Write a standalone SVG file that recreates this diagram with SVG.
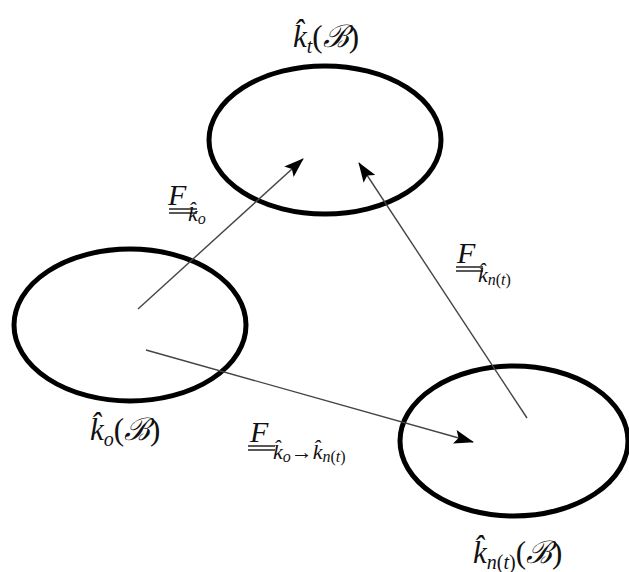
<svg xmlns="http://www.w3.org/2000/svg" width="629" height="572" viewBox="0 0 629 572">
<style>
.node{fill:none;stroke:#000;stroke-width:5}
.conn{stroke:#444;stroke-width:1.4;fill:none}
.lbl{font-family:"Liberation Serif","DejaVu Serif",serif;fill:#111}
.big{font-size:31px}
.mid{font-size:30px}
.it{font-style:italic}
.up{font-style:normal}
.s1{font-size:22px}
.s2{font-size:16px}
.ul{stroke:#111;stroke-width:1.4}
</style>
<defs>
<marker id="ah" viewBox="0 0 20 14" refX="19" refY="7" markerWidth="20" markerHeight="14" markerUnits="userSpaceOnUse" orient="auto">
<path d="M0,0 L20,7 L0,14 L4,7 Z" fill="#000"/>
</marker>
</defs>
<rect width="629" height="572" fill="#fff"/>
<g id="node-kt">
<ellipse class="node" cx="325" cy="140" rx="116" ry="74"/>
<text class="lbl big" x="293" y="47"><tspan class="it">k̂</tspan><tspan class="it" font-size="20" dy="6">t</tspan><tspan dy="-6">(</tspan><tspan class="it">ℬ</tspan><tspan>)</tspan></text>
</g>
<g id="node-ko">
<ellipse class="node" cx="130" cy="325" rx="116" ry="76"/>
<text class="lbl big" x="90" y="440"><tspan class="it">k̂</tspan><tspan class="it" font-size="20" dy="6">o</tspan><tspan dy="-6">(</tspan><tspan class="it">ℬ</tspan><tspan>)</tspan></text>
</g>
<g id="node-knt">
<ellipse class="node" cx="514" cy="441" rx="114" ry="75"/>
<text class="lbl big" x="473" y="563"><tspan class="it">k̂</tspan><tspan class="it" font-size="20" dy="6">n</tspan><tspan font-size="20">(</tspan><tspan class="it" font-size="20">t</tspan><tspan font-size="20">)</tspan><tspan dy="-6">(</tspan><tspan class="it">ℬ</tspan><tspan>)</tspan></text>
</g>
<g id="connectors">
<line class="conn" x1="138" y1="309" x2="303" y2="159" marker-end="url(#ah)"/>
<line class="conn" x1="527" y1="418" x2="359" y2="163" marker-end="url(#ah)"/>
<line class="conn" x1="146" y1="350" x2="473" y2="442" marker-end="url(#ah)"/>
<g id="lbl-f1">
<text class="lbl mid it" x="168" y="205">F</text>
<text class="lbl it" x="188" y="221"><tspan class="s1">k̂</tspan><tspan class="s2" dy="3">o</tspan></text>
<line class="ul" x1="169" y1="209" x2="197" y2="209"/>
<line class="ul" x1="169" y1="213" x2="197" y2="213"/>
</g>
<g id="lbl-f2">
<text class="lbl mid it" x="457" y="263">F</text>
<text class="lbl it" x="478" y="282"><tspan class="s1">k̂</tspan><tspan class="s2" dy="3">n</tspan><tspan class="s2 up">(</tspan><tspan class="s2">t</tspan><tspan class="s2 up">)</tspan></text>
<line class="ul" x1="456" y1="267" x2="483" y2="267"/>
<line class="ul" x1="456" y1="271" x2="483" y2="271"/>
</g>
<g id="lbl-f3">
<text class="lbl mid it" x="250" y="442">F</text>
<text class="lbl it" x="273" y="459"><tspan class="s1">k̂</tspan><tspan class="s2" dy="3">o</tspan><tspan class="s1 up" dy="-3">→</tspan><tspan class="s1">k̂</tspan><tspan class="s2" dy="3">n</tspan><tspan class="s2 up">(</tspan><tspan class="s2">t</tspan><tspan class="s2 up">)</tspan></text>
<line class="ul" x1="248" y1="446" x2="275" y2="446"/>
<line class="ul" x1="248" y1="450" x2="275" y2="450"/>
</g>
</g>
</svg>
